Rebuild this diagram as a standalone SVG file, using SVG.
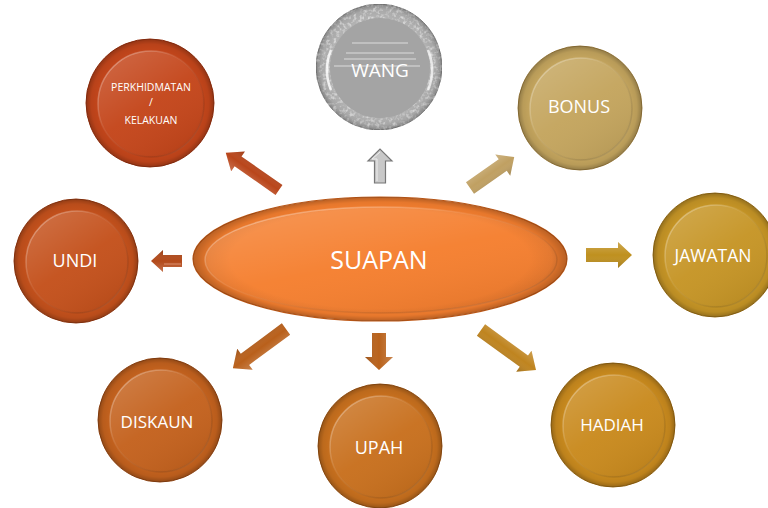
<svg xmlns="http://www.w3.org/2000/svg" width="768" height="508" viewBox="0 0 768 508">
<defs>
<radialGradient id="rim" cx="50%" cy="50%" r="50%">
<stop offset="0.8" stop-color="#000" stop-opacity="0"/>
<stop offset="0.92" stop-color="#000" stop-opacity="0.06"/>
<stop offset="1" stop-color="#000" stop-opacity="0.25"/>
</radialGradient>
<linearGradient id="gloss" x1="0.2" y1="0.05" x2="0.8" y2="0.95">
<stop offset="0" stop-color="#fff" stop-opacity="0.16"/>
<stop offset="0.5" stop-color="#fff" stop-opacity="0.03"/>
<stop offset="1" stop-color="#000" stop-opacity="0.06"/>
</linearGradient>
<linearGradient id="edge" x1="0" y1="0" x2="1" y2="1">
<stop offset="0" stop-color="#fff" stop-opacity="0.45"/>
<stop offset="0.4" stop-color="#fff" stop-opacity="0.08"/>
<stop offset="0.75" stop-color="#000" stop-opacity="0.1"/>
<stop offset="1" stop-color="#fff" stop-opacity="0.25"/>
</linearGradient>
<linearGradient id="ashade" x1="0" y1="0" x2="0" y2="1">
<stop offset="0" stop-color="#fff" stop-opacity="0.22"/>
<stop offset="0.5" stop-color="#fff" stop-opacity="0"/>
<stop offset="1" stop-color="#000" stop-opacity="0.18"/>
</linearGradient>
<filter id="noise" x="0" y="0" width="100%" height="100%">
<feTurbulence type="fractalNoise" baseFrequency="0.3" numOctaves="2" seed="4" result="t"/>
<feColorMatrix in="t" type="matrix" values="0 0 0 0 0.95  0 0 0 0 0.95  0 0 0 0 0.95  0 0 0 1.6 -0.75" result="n"/>
<feComposite in="n" in2="SourceGraphic" operator="in" result="m"/>
<feMerge><feMergeNode in="SourceGraphic"/><feMergeNode in="m"/></feMerge>
</filter>
<style>
.rim{fill:url(#rim)}
.in{fill:url(#gloss);stroke:url(#edge);stroke-width:1.5}
.lbl{font-family:"Open Sans","Noto Sans","Liberation Sans",sans-serif;fill:#fff;text-anchor:middle}
.arr{stroke:none}
.sh{fill:url(#ashade)}
</style>
</defs>

<g id="connectors">
<g transform="translate(279,190) rotate(-145)"><path class="arr" fill="#b9461b" d="M0,-6 L50,-6 L50,-12 L65,0 L50,12 L50,6 L0,6 Z"/><path class="sh" d="M0,-6 L50,-6 L50,-12 L65,0 L50,12 L50,6 L0,6 Z"/></g>
<g transform="translate(380,183) rotate(-90)"><path fill="#c8c8c8" stroke="#777" stroke-width="1.2" d="M0,-5.5 L22,-5.5 L22,-12 L34,0 L22,12 L22,5.5 L0,5.5 Z"/><path fill="none" stroke="#eee" stroke-width="1" d="M2,-3 L24,-3 L24,-8 L31,0"/></g>
<g transform="translate(470,188) rotate(-35)"><path class="arr" fill="#c0a062" d="M0,-7 L40,-7 L40,-13 L54,0 L40,13 L40,7 L0,7 Z"/><path class="sh" d="M0,-7 L40,-7 L40,-13 L54,0 L40,13 L40,7 L0,7 Z"/></g>
<g transform="translate(586,255) rotate(0)"><path class="arr" fill="#bf901f" d="M0,-7 L32,-7 L32,-13 L46,0 L32,13 L32,7 L0,7 Z"/><path class="sh" d="M0,-7 L32,-7 L32,-13 L46,0 L32,13 L32,7 L0,7 Z"/></g>
<g transform="translate(481,330) rotate(36)"><path class="arr" fill="#bf841f" d="M0,-7 L53,-7 L53,-13 L68,0 L53,13 L53,7 L0,7 Z"/><path class="sh" d="M0,-7 L53,-7 L53,-13 L68,0 L53,13 L53,7 L0,7 Z"/></g>
<g transform="translate(379,333) rotate(90)"><path class="arr" fill="#b9621b" d="M0,-7 L24,-7 L24,-14 L37,0 L24,14 L24,7 L0,7 Z"/><path class="sh" d="M0,-7 L24,-7 L24,-14 L37,0 L24,14 L24,7 L0,7 Z"/></g>
<g transform="translate(286,329) rotate(143.6)"><path class="arr" fill="#b9601b" d="M0,-7 L51,-7 L51,-13 L66,0 L51,13 L51,7 L0,7 Z"/><path class="sh" d="M0,-7 L51,-7 L51,-13 L66,0 L51,13 L51,7 L0,7 Z"/></g>
<g transform="translate(182,261) rotate(180)"><path class="arr" fill="#b34a1a" d="M0,-6 L19,-6 L19,-11 L31,0 L19,11 L19,6 L0,6 Z"/><path class="sh" d="M0,-6 L19,-6 L19,-11 L31,0 L19,11 L19,6 L0,6 Z"/><path fill="none" stroke="#e8a080" stroke-width="0.8" d="M1,-3 L18,-3"/></g>
</g>

<g id="perkhidmatan">
<circle cx="150" cy="103" r="64" fill="#c4461b" stroke="#9c3412" stroke-width="1"/>
<circle class="rim" cx="150" cy="103" r="64"/>
<circle class="in" cx="151" cy="104" r="53"/>
<text class="lbl" x="151" y="91" font-size="10.5">PERKHIDMATAN</text>
<text class="lbl" x="151" y="106" font-size="10.5">/</text>
<text class="lbl" x="151" y="124" font-size="10.5">KELAKUAN</text>
</g>

<g id="wang">
<circle cx="379" cy="67" r="63" fill="#b2b2b2" stroke="#8a8a8a" stroke-width="1" filter="url(#noise)"/>
<circle class="rim" cx="379" cy="67" r="63"/>
<circle cx="380" cy="68" r="50" fill="#a4a4a4"/>
<path d="M331,50 A52,52 0 0 0 331,90" fill="none" stroke="#fff" stroke-width="2.5" opacity="0.8"/>
<path d="M428,50 A52,52 0 0 1 428,90" fill="none" stroke="#fff" stroke-width="2.5" opacity="0.7"/>
<g stroke="#e6e6e6" stroke-width="1" opacity="0.85">
<line x1="352" y1="43" x2="408" y2="43"/>
<line x1="346" y1="53" x2="414" y2="53"/>
<line x1="344" y1="59" x2="416" y2="59"/>
<line x1="334" y1="66" x2="420" y2="66"/>
</g>
<text class="lbl" x="380" y="77" font-size="19">WANG</text>
</g>

<g id="bonus">
<circle cx="580" cy="108" r="62" fill="#c4a55e" stroke="#a08040" stroke-width="1"/>
<circle class="rim" cx="580" cy="108" r="62"/>
<circle class="in" cx="581" cy="109" r="51"/>
<text class="lbl" x="579" y="113" font-size="18">BONUS</text>
</g>

<g id="undi">
<circle cx="76" cy="261" r="62" fill="#c4511c" stroke="#983a12" stroke-width="1"/>
<circle class="rim" cx="76" cy="261" r="62"/>
<circle class="in" cx="77" cy="262" r="51"/>
<text class="lbl" x="75" y="267" font-size="18">UNDI</text>
</g>

<g id="suapan">
<ellipse cx="380" cy="259" rx="187" ry="62" fill="#f57f2f" stroke="#c05a18" stroke-width="1.2"/>
<ellipse class="rim" cx="380" cy="259" rx="187" ry="62"/>
<ellipse class="in" cx="381" cy="260" rx="176" ry="53"/>
<text class="lbl" x="379" y="269" font-size="25">SUAPAN</text>
</g>

<g id="jawatan">
<circle cx="715" cy="255" r="62" fill="#c69526" stroke="#9c7018" stroke-width="1"/>
<circle class="rim" cx="715" cy="255" r="62"/>
<circle class="in" cx="716" cy="256" r="51"/>
<text class="lbl" x="713" y="262" font-size="17.5">JAWATAN</text>
</g>

<g id="diskaun">
<circle cx="160" cy="420" r="62" fill="#c4621e" stroke="#984814" stroke-width="1"/>
<circle class="rim" cx="160" cy="420" r="62"/>
<circle class="in" cx="161" cy="421" r="51"/>
<text class="lbl" x="157" y="428" font-size="17">DISKAUN</text>
</g>

<g id="upah">
<circle cx="380" cy="446" r="62" fill="#c8701e" stroke="#9c5414" stroke-width="1"/>
<circle class="rim" cx="380" cy="446" r="62"/>
<circle class="in" cx="381" cy="447" r="51"/>
<text class="lbl" x="379" y="454" font-size="18">UPAH</text>
</g>

<g id="hadiah">
<circle cx="613" cy="425" r="62" fill="#c98a1e" stroke="#9c6a14" stroke-width="1"/>
<circle class="rim" cx="613" cy="425" r="62"/>
<circle class="in" cx="614" cy="426" r="51"/>
<text class="lbl" x="612" y="431" font-size="17">HADIAH</text>
</g>
</svg>
